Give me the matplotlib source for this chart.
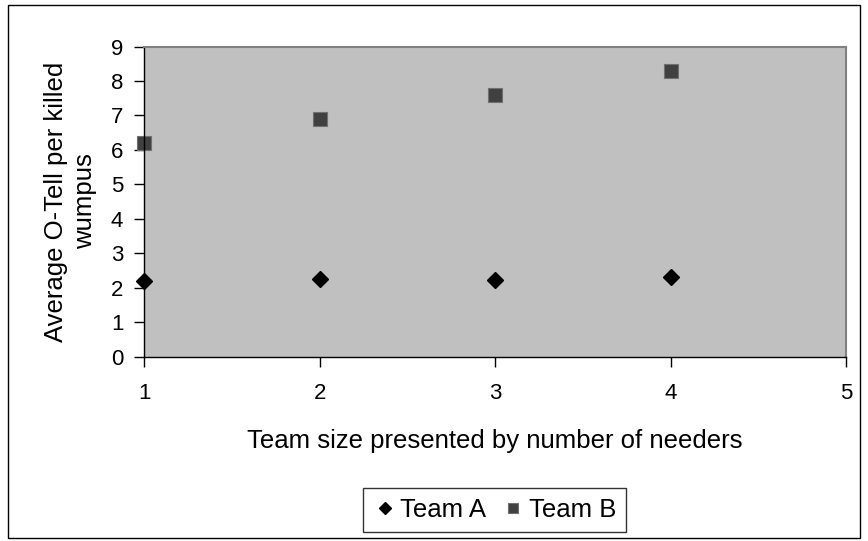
import matplotlib.pyplot as plt
import matplotlib.patches as mpatches

plt.rcParams['font.family'] = ['Liberation Sans', 'DejaVu Sans']

# team size (number of needers) and average O-Tell per killed wumpus
team_size = [1, 2, 3, 4]
team_a = [2.2, 2.25, 2.23, 2.32]
team_b = [6.2, 6.9, 7.6, 8.3]

fig = plt.figure(figsize=(8.68, 5.41), dpi=100)
ax = fig.add_axes([0.166, 0.341, 0.809, 0.573])
ax.set_facecolor('#c0c0c0')

ax.plot(team_size, team_a, linestyle='none', marker='D', markersize=8,
        color='black', label='Team A', clip_on=False)
ax.plot(team_size, team_b, linestyle='none', marker='s', markersize=10,
        color='#404040', markeredgecolor='#707070', markeredgewidth=0.8,
        label='Team B', clip_on=False)

ax.set_xlim(1, 5)
ax.set_ylim(0, 9)
ax.set_xticks([1, 2, 3, 4, 5])
ax.set_yticks(range(10))
ax.tick_params(axis='both', labelsize=16, length=7, width=1, color='black')
ax.tick_params(axis='x', pad=12)
ax.tick_params(axis='y', pad=8)

for side in ['top', 'right']:
    ax.spines[side].set_color('#808080')
    ax.spines[side].set_linewidth(1.5)
for side in ['left', 'bottom']:
    ax.spines[side].set_color('black')
    ax.spines[side].set_linewidth(1)

ax.set_xlabel('Team size presented by number of needers', fontsize=18.5, labelpad=18)
ax.set_ylabel('Average O-Tell per killed\nwumpus', fontsize=18.5, labelpad=10,
              linespacing=1.25)

leg = fig.legend(loc='center', bbox_to_anchor=(0.570, 0.057),
                 ncol=2, fontsize=18.5, frameon=True, fancybox=False,
                 edgecolor='black', handletextpad=0.15, columnspacing=0.6,
                 borderpad=0.4, handlelength=0.9, markerscale=0.75)
leg.get_frame().set_linewidth(1)

# outer chart border
fig.patches.append(mpatches.Rectangle((0.009, 0.006), 0.982, 0.985,
                                      transform=fig.transFigure, fill=False,
                                      edgecolor='black', linewidth=1))

fig.savefig('out.png', dpi=100)
